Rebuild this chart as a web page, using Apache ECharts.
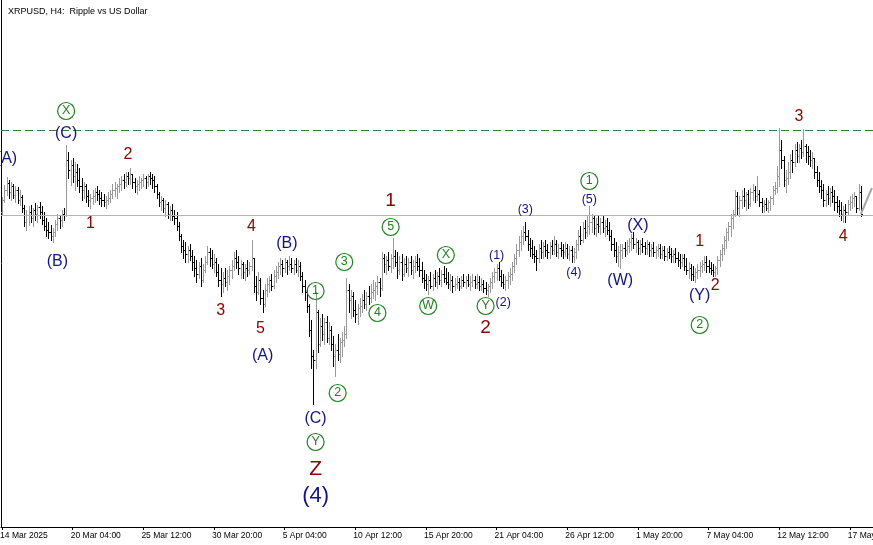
<!DOCTYPE html>
<html>
<head>
<meta charset="utf-8">
<script src="https://cdn.jsdelivr.net/npm/echarts/dist/echarts.min.js"></script>
<style>
html,body{margin:0;padding:0;background:#fff;}
#chart{width:873px;height:545px;}
</style>
</head>
<body>
<div id="chart"></div>
<script>
// ---- DATA (prices in 1/1000 USD; each bar = [high, low, close], open = previous close) ----
const firstOpen = 2322;
const seg1 = [[2382,2310,2370],[2430,2362,2410],[2462,2390,2438],[2450,2378,2402],[2442,2370,2426],[2434,2378,2390],[2426,2362,2410],[2422,2358,2370],[2410,2350,2382],[2390,2322,2338],
[2350,2266,2282],[2330,2250,2310],[2346,2270,2322],[2350,2282,2298],[2338,2266,2330],[2358,2290,2314],[2350,2282,2342],[2362,2298,2322],[2346,2274,2290],[2322,2250,2266],
[2298,2226,2250],[2282,2218,2242],[2270,2210,2226],[2258,2202,2242],[2290,2226,2274],[2314,2250,2298],[2306,2258,2290],[2330,2266,2314],[2338,2290,2310],[2590,2306,2530]];
const seg2 = [[2562,2458,2490],[2530,2430,2510],[2538,2442,2466],[2522,2410,2482],[2514,2426,2450],[2498,2402,2426],[2458,2370,2410],[2442,2378,2426],[2434,2362,2386],[2410,2346,2370],
[2394,2338,2378],[2410,2354,2386],[2418,2362,2402],[2426,2370,2394],[2410,2354,2378],[2402,2346,2370],[2394,2346,2362],[2386,2338,2370],[2402,2354,2378],[2410,2362,2394],
[2434,2378,2410],[2442,2386,2418],[2434,2378,2426],[2458,2402,2434],[2466,2410,2450],[2474,2418,2442],[2482,2426,2466],[2482,2434,2458],[2498,2434,2474],[2474,2418,2442],
[2458,2402,2426],[2450,2394,2434],[2466,2410,2442],[2458,2418,2450],[2474,2426,2458],[2466,2418,2442],[2474,2426,2466],[2482,2434,2458],[2474,2418,2450],[2466,2402,2426]];
const seg3 = [[2434,2378,2394],[2402,2346,2362],[2386,2330,2370],[2378,2322,2338],[2370,2306,2354],[2362,2298,2314],[2346,2290,2330],[2354,2290,2306],[2330,2274,2298],[2322,2250,2266],
[2282,2210,2226],[2234,2162,2186],[2210,2138,2170],[2202,2122,2154],[2186,2122,2170],[2194,2130,2146],[2170,2090,2122],[2146,2066,2098],[2130,2042,2074],[2122,2058,2106],
[2138,2026,2050],[2114,2042,2090],[2146,2082,2122],[2186,2114,2162],[2178,2106,2138],[2170,2098,2114],[2154,2082,2122],[2138,2066,2082],[2114,2026,2050],[2098,1986,2034]];
const seg4 = [[2082,2002,2058],[2098,2026,2042],[2090,2010,2066],[2106,2034,2090],[2130,2058,2106],[2162,2090,2138],[2170,2098,2122],[2146,2074,2098],[2130,2058,2114],[2122,2058,2082],
[2114,2050,2098],[2130,2066,2090],[2122,2074,2106],[2210,2090,2138],[2138,2002,2026],[2066,1970,2002],[2082,1994,2050],[2058,1954,1978],[2010,1922,1954],[2034,1946,2010],
[2058,1986,2034],[2066,2002,2050],[2074,2010,2026],[2090,2018,2066],[2106,2042,2082],[2122,2058,2106],[2138,2074,2114],[2130,2066,2098],[2138,2082,2122],[2130,2074,2106],
[2146,2090,2114],[2138,2082,2098],[2130,2074,2114],[2138,2082,2090],[2130,2066,2106],[2122,2050,2066],[2082,2002,2026],[2050,1970,2002],[2018,1922,1946],[1954,1826,1850],
[1890,1698,1746]];
const seg5 = [[1770,1554,1730],[2002,1698,1922],[1930,1762,1794],[1898,1786,1866],[1914,1810,1834],[1898,1794,1882],[1906,1802,1818],[1882,1794,1850],[1866,1770,1794],[1826,1706,1746],
[1794,1666,1770],[1834,1730,1754],[1818,1722,1802],[1842,1746,1810],[1866,1786,1834],[2058,1818,2010],[2034,1922,1970],[2010,1898,1986],[2002,1906,1930],[1970,1882,1914],
[1954,1874,1938],[1978,1906,1946],[1994,1922,1970],[2010,1938,1954],[2002,1930,1986],[2026,1954,1978],[2034,1962,2002],[2050,1978,2010],[2042,1970,2026],[2066,1994,2042]];
const seg6 = [[2058,1986,2018],[2162,2010,2138],[2154,2082,2114],[2146,2074,2130],[2162,2090,2106],[2154,2082,2138],[2218,2098,2146],[2170,2106,2122],[2162,2058,2090],[2146,2074,2122],
[2154,2050,2074],[2138,2066,2114],[2146,2082,2098],[2138,2066,2122],[2146,2074,2090],[2130,2058,2106],[2146,2082,2122],[2154,2090,2106],[2138,2066,2090],[2122,2042,2058],
[2090,2018,2050],[2074,2010,2034],[2066,1994,2050],[2082,2018,2026],[2074,2010,2058],[2090,2026,2042],[2082,2018,2066],[2098,2034,2050],[2090,2026,2074],[2106,2042,2058],
[2098,2034,2042],[2082,2018,2034],[2074,2010,2050],[2066,2002,2026],[2058,2010,2034],[2066,2018,2042],[2058,2010,2026],[2066,2018,2050],[2074,2026,2042],[2066,2018,2050],
[2074,2026,2034],[2066,2010,2042],[2074,2026,2050],[2066,2018,2034],[2074,2018,2042],[2066,2010,2026],[2058,2010,2034],[2050,2002,2018],[2042,1994,2010],[2034,1986,2026],
[2058,2002,2042],[2082,2018,2066],[2098,2042,2082],[2114,2050,2098],[2122,2050,2066],[2090,2026,2042],[2074,2018,2034],[2066,2010,2050],[2082,2018,2066],[2098,2034,2074]];
const seg7 = [[2122,2050,2106],[2154,2082,2138],[2194,2114,2170],[2226,2146,2202],[2250,2170,2226],[2266,2194,2242],[2282,2210,2226],[2250,2170,2194],[2218,2146,2178],[2210,2138,2154],
[2186,2122,2146],[2170,2090,2138],[2194,2122,2178],[2210,2138,2162],[2202,2138,2186],[2210,2146,2170],[2194,2138,2162],[2202,2138,2186],[2210,2154,2170],[2226,2154,2194],
[2210,2146,2162],[2194,2138,2178],[2202,2146,2170],[2194,2138,2162],[2202,2146,2178],[2194,2138,2154],[2186,2130,2170],[2186,2122,2146],[2178,2122,2162],[2210,2138,2194],
[2250,2170,2226],[2266,2194,2210],[2282,2202,2258],[2290,2218,2242],[2306,2226,2266],[2346,2234,2282],[2314,2242,2298],[2306,2234,2258],[2298,2226,2274],[2306,2242,2266],
[2298,2234,2282],[2306,2242,2258],[2290,2226,2266],[2298,2234,2250],[2282,2210,2226],[2250,2170,2194],[2218,2146,2170],[2202,2122,2146],[2186,2106,2162],[2194,2098,2170]];
const seg8 = [[2194,2138,2178],[2202,2146,2170],[2210,2154,2186],[2218,2162,2202],[2234,2170,2218],[2242,2178,2194],[2218,2162,2202],[2210,2154,2178],[2210,2154,2194],[2218,2162,2186],
[2202,2154,2178],[2210,2154,2194],[2202,2146,2170],[2194,2146,2178],[2202,2146,2162],[2186,2138,2170],[2194,2146,2178],[2194,2138,2154],[2186,2138,2170],[2186,2130,2146],
[2178,2130,2162],[2186,2138,2154],[2178,2122,2146],[2170,2122,2154],[2178,2122,2138],[2162,2106,2130],[2154,2098,2122],[2154,2106,2138],[2154,2090,2106],[2138,2074,2090],
[2122,2058,2098],[2114,2050,2074],[2106,2050,2066],[2098,2042,2082],[2114,2058,2090],[2122,2066,2106],[2130,2082,2114],[2146,2090,2122],[2146,2082,2106],[2130,2082,2098],
[2122,2074,2090],[2114,2066,2082],[2106,2066,2098],[2146,2074,2130],[2170,2106,2154],[2194,2130,2178],[2226,2154,2210],[2258,2178,2242],[2282,2210,2266],[2314,2226,2298]];
const seg9 = [[2330,2258,2314],[2410,2306,2386],[2402,2314,2338],[2386,2306,2370],[2410,2338,2386],[2418,2346,2370],[2402,2330,2394],[2410,2338,2354],[2418,2346,2402],[2434,2370,2410],
[2426,2362,2386],[2466,2370,2394],[2410,2346,2362],[2378,2322,2346],[2370,2322,2354],[2378,2330,2338],[2370,2322,2362],[2386,2330,2378],[2426,2354,2410],[2442,2394,2418],
[2506,2402,2466],[2658,2426,2570],[2610,2498,2530],[2546,2426,2450],[2490,2402,2458],[2522,2434,2482],[2554,2458,2530],[2570,2482,2522],[2594,2506,2570],[2602,2522,2546],
[2594,2522,2578],[2610,2538,2562],[2654,2546,2586],[2594,2522,2562],[2586,2514,2546],[2570,2506,2530],[2562,2498,2538],[2538,2458,2482],[2506,2426,2450],[2482,2402,2426],
[2450,2378,2410],[2434,2346,2370],[2410,2346,2394],[2426,2354,2378],[2418,2346,2402],[2426,2362,2386],[2410,2330,2362],[2386,2322,2346],[2370,2306,2330],[2362,2290,2314],
[2346,2282,2330],[2354,2282,2322],[2370,2314,2354],[2386,2330,2362],[2394,2338,2378],[2402,2346,2386],[2386,2322,2338],[2434,2330,2402],[2426,2306,2314]];

const tickLabels = ["14 Mar 2025","20 Mar 04:00","25 Mar 12:00","30 Mar 20:00","5 Apr 04:00","10 Apr 12:00","15 Apr 20:00","21 Apr 04:00","26 Apr 12:00","1 May 20:00","7 May 04:00","12 May 12:00","17 May 20:00"];
const barsPerTick = 32;
const emptySlots = 5;

const bidPrice = 2.314;
const resistancePrice = 2.654;
const projectionLine = [[389, 2.314], [394, 2.418]];

// annotations: [text, bar index, price]
const navyLabels = [["(A)",2,2.534],["(C)",29,2.634],["(B)",25,2.122],["(B)",129,2.194],["(A)",118,1.746],["(C)",142,1.494],["(X)",288,2.266],["(W)",280,2.046],["(Y)",316,1.986]];
const navySmallLabels = [["(1)",224,2.146],["(2)",227,1.958],["(3)",237,2.330],["(5)",266,2.370],["(4)",259,2.078]];
const navyBigLabels = [["(4)",142,1.186]];
const redLabels = [["2",57,2.550],["1",40,2.274],["4",113,2.262],["3",99,1.926],["5",117,1.854],["1",316,2.202],["2",323,2.026],["3",361,2.702],["4",381,2.222]];
const redBigLabels = [["1",176,2.366],["2",219,1.858]];
const redHugeLabels = [["Z",142,1.294]];
const greenCircleLabels = [["X",29,2.726],["1",142,2.006],["3",155,2.122],["4",170,1.918],["5",176,2.262],["2",152,1.598],["Y",142,1.402],["X",201,2.150],["W",193,1.946],["Y",219,1.946],["1",266,2.446],["2",316,1.870]];

// ---- BUILD ----
const segments = [seg1, seg2, seg3, seg4, seg5, seg6, seg7, seg8, seg9];
const bars = [];
let prevClose = firstOpen;
segments.forEach(function (seg) {
  seg.forEach(function (b) {
    const o = prevClose, h = b[0], l = b[1], c = b[2];
    bars.push([bars.length, o / 1000, Math.max(h, o, c) / 1000, Math.min(l, o, c) / 1000, c / 1000]);
    prevClose = c;
  });
});
const categories = [];
for (let i = 0; i < bars.length + emptySlots; i++) categories.push(String(i));

const FONT = '"Liberation Sans", Arial, sans-serif';
const upColor = '#9a9a9a', downColor = '#000000';
const NAVY = '#14147f', RED = '#8b0000', GREEN = '#1f821f';

function renderBar(params, api) {
  const i = api.value(0), o = api.value(1), h = api.value(2), l = api.value(3), c = api.value(4);
  const X = Math.round(api.coord([i, o])[0]);
  const yO = Math.round(api.coord([i, o])[1]);
  const yH = Math.round(api.coord([i, h])[1]);
  const yL = Math.round(api.coord([i, l])[1]);
  const yC = Math.round(api.coord([i, c])[1]);
  const col = c >= o ? upColor : downColor;
  return {
    type: 'group',
    children: [
      { type: 'rect', shape: { x: X, y: yH, width: 1, height: Math.max(1, yL - yH + 1) }, style: { fill: col } },
      { type: 'rect', shape: { x: X - 1, y: yO, width: 1, height: 1 }, style: { fill: col } },
      { type: 'rect', shape: { x: X + 1, y: yC, width: 1, height: 1 }, style: { fill: col } }
    ]
  };
}

function textSeries(list, color, size) {
  return {
    type: 'scatter', z: 10, silent: true,
    symbol: 'circle', symbolSize: 1,
    itemStyle: { color: 'rgba(0,0,0,0)', opacity: 1 },
    label: { show: true, position: 'inside', color: color, fontSize: size, fontFamily: FONT,
      formatter: function (p) { return p.data[2]; } },
    data: list.map(function (a) { return [a[1], a[2], a[0]]; })
  };
}

const chart = echarts.init(document.getElementById('chart'), null, { renderer: 'canvas' });
chart.setOption({
  animation: false,
  backgroundColor: '#ffffff',
  title: {
    text: 'XRPUSD, H4:  Ripple vs US Dollar', left: 3, top: 2,
    textStyle: { fontSize: 9, fontWeight: 'normal', color: '#000', fontFamily: FONT }
  },
  grid: { left: 1, right: 0, top: 0, bottom: 18, containLabel: false, outerBoundsMode: 'none' },
  xAxis: {
    type: 'category', data: categories, boundaryGap: true,
    axisLine: { show: true, lineStyle: { color: '#000', width: 1 } },
    axisTick: { show: true, alignWithLabel: true, length: 3, lineStyle: { color: '#000' },
      interval: function (i) { return i % barsPerTick === 0; } },
    axisLabel: {
      interval: function (i) { return i % barsPerTick === 0 && i / barsPerTick < tickLabels.length; },
      formatter: function (v, i) { return tickLabels[Math.round(i / barsPerTick)] || ''; },
      align: 'left', margin: 4, fontSize: 8.5, color: '#000', fontFamily: FONT, padding: [0, 0, 0, -2],
      hideOverlap: false
    },
    splitLine: { show: false }
  },
  yAxis: {
    type: 'value', min: 1.062, max: 3.170,
    axisLine: { show: true, lineStyle: { color: '#000', width: 1 } },
    axisLabel: { show: false }, axisTick: { show: false }, splitLine: { show: false }
  },
  series: [
    {
      type: 'custom', renderItem: renderBar, data: bars, z: 3,
      encode: { x: 0, y: [1, 2, 3, 4] },
      markLine: {
        silent: true, symbol: ['none', 'none'], label: { show: false },
        data: [
          { yAxis: bidPrice, lineStyle: { color: '#b4b4b4', type: 'solid', width: 1 } },
          { yAxis: resistancePrice, lineStyle: { color: '#3f7a3f', type: [8, 4], width: 1 } }
        ]
      }
    },
    {
      type: 'line', data: projectionLine, symbol: 'none', silent: true, z: 4,
      lineStyle: { color: '#a8a8a8', width: 2 }
    },
    textSeries(navyLabels, NAVY, 16),
    textSeries(navySmallLabels, NAVY, 12.5),
    textSeries(navyBigLabels, NAVY, 22),
    textSeries(redLabels, RED, 16),
    textSeries(redBigLabels, RED, 19),
    textSeries(redHugeLabels, RED, 21),
    {
      type: 'scatter', z: 11, silent: true,
      symbol: 'circle', symbolSize: 17,
      itemStyle: { color: 'rgba(255,255,255,0)', borderColor: GREEN, borderWidth: 1.2, opacity: 1 },
      label: { show: true, position: 'inside', color: GREEN, fontSize: 12.5, fontFamily: FONT,
        formatter: function (p) { return p.data[2]; } },
      data: greenCircleLabels.map(function (a) { return [a[1], a[2], a[0]]; })
    }
  ]
});
</script>
</body>
</html>
